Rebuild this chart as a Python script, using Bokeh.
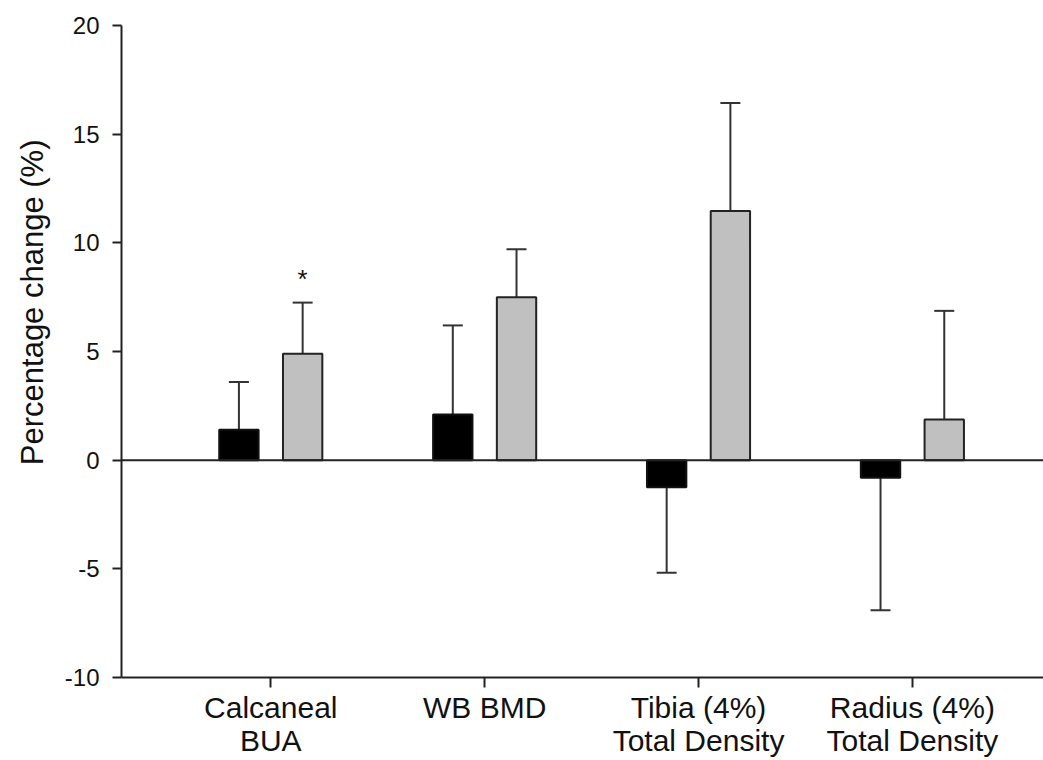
from bokeh.plotting import figure
from bokeh.models import Range1d, FixedTicker, Span, ColumnDataSource, Title
from bokeh.embed import file_html
from bokeh.resources import INLINE
from bokeh.core.properties import value
import numpy as np

# ---- data ----
categories = ["Calcaneal\nBUA", "WB BMD", "Tibia (4%)\nTotal Density", "Radius (4%)\nTotal Density"]
black_values = [1.4, 2.1, -1.25, -0.81]
black_errors = [2.2, 4.1, 3.93, 6.1]
gray_values = [4.9, 7.5, 11.47, 1.87]
gray_errors = [2.35, 2.2, 4.96, 5.0]
y_ticks = [-10, -5, 0, 5, 10, 15, 20]
y_tick_labels = ["-10", "-5", "0", "5", "10", "15", "20"]
y_label = "Percentage change (%)"
sig_category = [0]          # asterisk over gray bar of this category
sig_y = [8.35]
sig_text = ["*"]

FONT = "Liberation Sans"
AX = "#222222"
TXT = "#111111"

idx = np.arange(len(categories))
off = 0.149
bw = 0.184
x0, x1 = -0.698, 3.613

p = figure(width=1043, height=760, output_backend="svg", toolbar_location=None,
           x_range=Range1d(x0, x1), y_range=Range1d(-10, 20),
           min_border_left=121, min_border_right=0, min_border_top=25, min_border_bottom=83)
p.outline_line_color = None
p.grid.visible = False
p.background_fill_color = "white"

def series(vals, errs, dx):
    x = idx + dx
    v = np.array(vals)
    e = np.array(errs)
    end = np.where(v >= 0, v + e, v - e)
    return ColumnDataSource(dict(x=x, top=v, end=end))

sb = series(black_values, black_errors, -off)
sg = series(gray_values, gray_errors, off)

for src in (sb, sg):
    p.segment(x0="x", y0="top", x1="x", y1="end", source=src, line_color="#333333", line_width=2)
    p.scatter(x="x", y="end", source=src, marker="dash", size=20, line_color="#333333", line_width=2)

p.vbar(x="x", top="top", bottom=0, width=bw, source=sb, fill_color="#000000", line_color="#111111", line_width=2)
p.vbar(x="x", top="top", bottom=0, width=bw, source=sg, fill_color="#C0C0C0", line_color="#222222", line_width=2)

p.add_layout(Span(location=0, dimension="width", line_color=AX, line_width=2))

p.text(x=[i + off for i in sig_category], y=sig_y, text=sig_text, text_align="center",
       text_baseline="middle", text_font=value(FONT), text_font_size="26px", text_color=TXT)

# x axis with category names as tick labels
xa = p.xaxis[0]
xa.ticker = FixedTicker(ticks=list(idx))
xa.major_label_overrides = {int(i): c for i, c in zip(idx, categories)}
xa.major_label_text_font = FONT
xa.major_label_text_font_size = "30px"
xa.major_label_text_line_height = 1.0
xa.major_label_text_color = TXT
xa.major_label_standoff = 3
xa.minor_tick_line_color = None
xa.major_tick_out = 10
xa.major_tick_in = 0
xa.axis_line_color = AX
xa.axis_line_width = 2
xa.major_tick_line_color = AX
xa.major_tick_line_width = 2

ya = p.yaxis[0]
ya.ticker = FixedTicker(ticks=y_ticks)
ya.major_label_overrides = {t: s for t, s in zip(y_ticks, y_tick_labels)}
ya.minor_tick_line_color = None
ya.major_tick_out = 9
ya.major_tick_in = 0
ya.major_label_standoff = 13
ya.major_label_text_font = FONT
ya.major_label_text_font_size = "24px"
ya.major_label_text_color = TXT
ya.axis_line_color = AX
ya.axis_line_width = 2
ya.major_tick_line_color = AX
ya.major_tick_line_width = 2

# y axis title as a left-side title (allows shifting along the axis)
p.add_layout(Title(text=y_label, align="right", offset=114, standoff=23,
                   text_font=FONT, text_font_size="31px", text_font_style="normal",
                   text_color=TXT), "left")

open("out.html", "w").write(file_html(p, INLINE))
